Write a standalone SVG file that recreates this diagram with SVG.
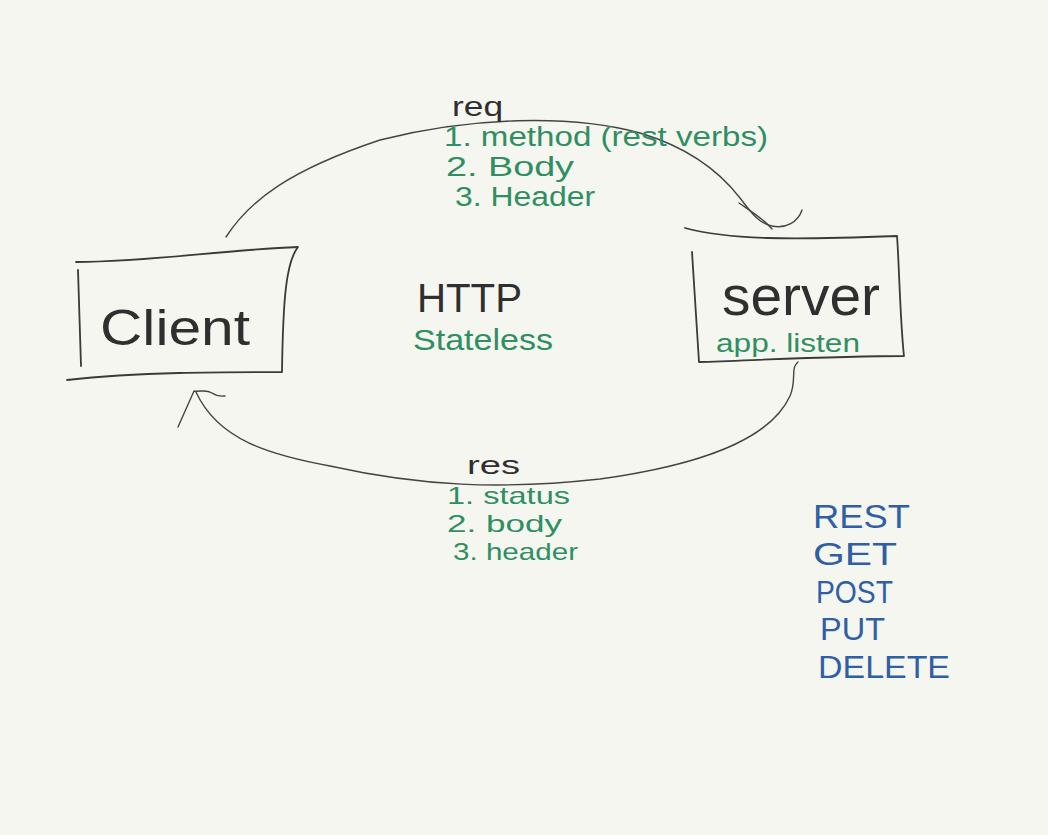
<svg xmlns="http://www.w3.org/2000/svg" width="1048" height="835" viewBox="0 0 1048 835">
<style>
.ink{fill:none;stroke:#444;stroke-width:1.4;stroke-linecap:round;stroke-linejoin:round}
.box{fill:none;stroke:#3a3a3a;stroke-width:1.8;stroke-linecap:round;stroke-linejoin:round}
.blk{font-family:"Liberation Sans",Arial,sans-serif;fill:#2f2f2f}
.grn{font-family:"Liberation Sans",Arial,sans-serif;fill:#2f8f62}
.blu{font-family:"Liberation Sans",Arial,sans-serif;fill:#2f5fa5}
</style>
<rect width="1048" height="835" fill="#f6f6f1"/>
<g id="connectors">
<path class="ink" d="M226,237 C250,200 290,170 380,140 C470,117 570,114 640,133 C690,148 720,172 740,198 C752,214 760,224 772,226 C786,229 798,222 802,210"/>
<path class="ink" d="M739,203 C752,212 765,220 772,229" stroke-width="2.2"/>
<path class="ink" d="M798,362 C790,368 797,380 790,396 C770,440 700,465 600,479 C500,490 420,486 330,466 C270,455 218,440 196,392"/>
<path class="ink" d="M178,427 L194,391 C200,392 206,389 212,393 C218,397 222,396 225,396" stroke-width="2"/>
</g>
<g id="client">
<path class="box" d="M76,262 C150,262 220,250 298,247 C286,262 283,300 282,372 C220,372 140,372 67,380"/>
<path class="box" d="M78,270 L81,366"/>
<text class="blk" x="100" y="345" font-size="50" textLength="150" lengthAdjust="spacingAndGlyphs">Client</text>
</g>
<g id="server">
<path class="box" d="M685,228 C730,240 790,240 897,236 C899,260 900,320 904,356 C840,356 760,360 699,362 L692,252"/>
<text class="blk" x="722" y="315" font-size="56" textLength="158" lengthAdjust="spacingAndGlyphs">server</text>
<text class="grn" x="716" y="352" font-size="26" textLength="144" lengthAdjust="spacingAndGlyphs">app. listen</text>
</g>
<g id="http">
<text class="blk" x="417" y="312" font-size="40" textLength="105" lengthAdjust="spacingAndGlyphs">HTTP</text>
<text class="grn" x="413" y="350" font-size="30" textLength="140" lengthAdjust="spacingAndGlyphs">Stateless</text>
</g>
<g id="req">
<text class="blk" x="452" y="116" font-size="28" textLength="51" lengthAdjust="spacingAndGlyphs">req</text>
<text class="grn" x="444" y="146" font-size="27" textLength="324" lengthAdjust="spacingAndGlyphs">1. method (rest verbs)</text>
<text class="grn" x="446" y="176" font-size="27" textLength="128" lengthAdjust="spacingAndGlyphs">2. Body</text>
<text class="grn" x="455" y="206" font-size="27" textLength="140" lengthAdjust="spacingAndGlyphs">3. Header</text>
</g>
<g id="res">
<text class="blk" x="467" y="474" font-size="26" textLength="53" lengthAdjust="spacingAndGlyphs">res</text>
<text class="grn" x="447" y="504" font-size="24" textLength="123" lengthAdjust="spacingAndGlyphs">1. status</text>
<text class="grn" x="447" y="532" font-size="24" textLength="115" lengthAdjust="spacingAndGlyphs">2. body</text>
<text class="grn" x="453" y="560" font-size="24" textLength="125" lengthAdjust="spacingAndGlyphs">3. header</text>
</g>
<g id="rest">
<text class="blu" x="813" y="528" font-size="34" textLength="97" lengthAdjust="spacingAndGlyphs">REST</text>
<text class="blu" x="813" y="565" font-size="32" textLength="84" lengthAdjust="spacingAndGlyphs">GET</text>
<text class="blu" x="816" y="603" font-size="32" textLength="77" lengthAdjust="spacingAndGlyphs">POST</text>
<text class="blu" x="820" y="640" font-size="32" textLength="65" lengthAdjust="spacingAndGlyphs">PUT</text>
<text class="blu" x="818" y="678" font-size="32" textLength="132" lengthAdjust="spacingAndGlyphs">DELETE</text>
</g>
</svg>
